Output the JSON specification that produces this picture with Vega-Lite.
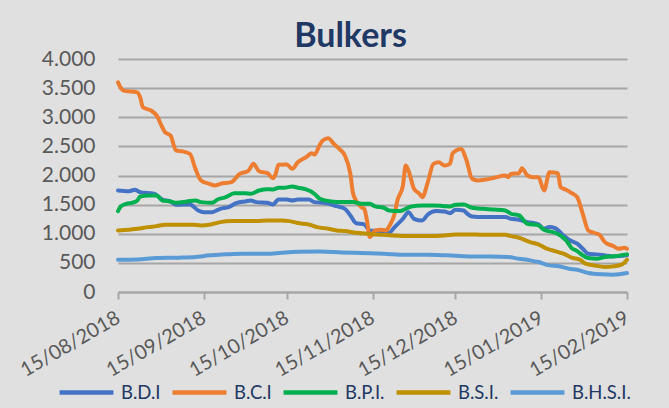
{
  "$schema": "https://vega.github.io/schema/vega-lite/v6.json",
  "autosize": "none",
  "width": 509,
  "height": 233,
  "padding": {"left": 118, "top": 59, "right": 42, "bottom": 116},
  "background": "#e0e0e0",
  "title": {"text": "Bulkers", "font": "Lato", "fontSize": 34, "fontWeight": "bold", "color": "#1f3864", "anchor": "middle", "dx": -22, "offset": -6},
  "config": {
    "view": {"stroke": null},
    "font": "Lato"
  },
  "data": {
    "format": {"parse": {"d": "date:'%Y-%m-%d'"}},
    "values": [
      {"s":"B.D.I","d":"2018-08-15","v":1743},{"s":"B.D.I","d":"2018-08-19","v":1731},{"s":"B.D.I","d":"2018-08-21","v":1754},{"s":"B.D.I","d":"2018-08-23","v":1714},{"s":"B.D.I","d":"2018-08-28","v":1686},{"s":"B.D.I","d":"2018-08-31","v":1589},{"s":"B.D.I","d":"2018-09-03","v":1554},{"s":"B.D.I","d":"2018-09-05","v":1497},{"s":"B.D.I","d":"2018-09-10","v":1503},{"s":"B.D.I","d":"2018-09-13","v":1400},{"s":"B.D.I","d":"2018-09-15","v":1371},{"s":"B.D.I","d":"2018-09-18","v":1371},{"s":"B.D.I","d":"2018-09-21","v":1428},{"s":"B.D.I","d":"2018-09-24","v":1457},{"s":"B.D.I","d":"2018-09-27","v":1531},{"s":"B.D.I","d":"2018-09-30","v":1554},{"s":"B.D.I","d":"2018-10-02","v":1571},{"s":"B.D.I","d":"2018-10-04","v":1543},{"s":"B.D.I","d":"2018-10-08","v":1531},{"s":"B.D.I","d":"2018-10-10","v":1503},{"s":"B.D.I","d":"2018-10-12","v":1589},{"s":"B.D.I","d":"2018-10-15","v":1589},{"s":"B.D.I","d":"2018-10-17","v":1571},{"s":"B.D.I","d":"2018-10-19","v":1589},{"s":"B.D.I","d":"2018-10-23","v":1589},{"s":"B.D.I","d":"2018-10-25","v":1543},{"s":"B.D.I","d":"2018-10-29","v":1526},{"s":"B.D.I","d":"2018-11-02","v":1474},{"s":"B.D.I","d":"2018-11-05","v":1428},{"s":"B.D.I","d":"2018-11-07","v":1314},{"s":"B.D.I","d":"2018-11-09","v":1183},{"s":"B.D.I","d":"2018-11-12","v":1160},{"s":"B.D.I","d":"2018-11-14","v":1057},{"s":"B.D.I","d":"2018-11-16","v":1050},{"s":"B.D.I","d":"2018-11-19","v":1040},{"s":"B.D.I","d":"2018-11-21","v":1017},{"s":"B.D.I","d":"2018-11-23","v":1114},{"s":"B.D.I","d":"2018-11-26","v":1257},{"s":"B.D.I","d":"2018-11-28","v":1371},{"s":"B.D.I","d":"2018-11-30","v":1257},{"s":"B.D.I","d":"2018-12-03","v":1228},{"s":"B.D.I","d":"2018-12-05","v":1331},{"s":"B.D.I","d":"2018-12-08","v":1389},{"s":"B.D.I","d":"2018-12-11","v":1383},{"s":"B.D.I","d":"2018-12-13","v":1354},{"s":"B.D.I","d":"2018-12-15","v":1411},{"s":"B.D.I","d":"2018-12-18","v":1400},{"s":"B.D.I","d":"2018-12-19","v":1354},{"s":"B.D.I","d":"2018-12-21","v":1297},{"s":"B.D.I","d":"2018-12-25","v":1286},{"s":"B.D.I","d":"2018-12-29","v":1286},{"s":"B.D.I","d":"2019-01-02","v":1286},{"s":"B.D.I","d":"2019-01-04","v":1257},{"s":"B.D.I","d":"2019-01-07","v":1240},{"s":"B.D.I","d":"2019-01-10","v":1200},{"s":"B.D.I","d":"2019-01-14","v":1160},{"s":"B.D.I","d":"2019-01-16","v":1086},{"s":"B.D.I","d":"2019-01-18","v":1114},{"s":"B.D.I","d":"2019-01-20","v":1097},{"s":"B.D.I","d":"2019-01-23","v":971},{"s":"B.D.I","d":"2019-01-25","v":897},{"s":"B.D.I","d":"2019-01-28","v":829},{"s":"B.D.I","d":"2019-01-30","v":743},{"s":"B.D.I","d":"2019-02-01","v":657},{"s":"B.D.I","d":"2019-02-04","v":646},{"s":"B.D.I","d":"2019-02-07","v":629},{"s":"B.D.I","d":"2019-02-10","v":611},{"s":"B.D.I","d":"2019-02-15","v":629},
      {"s":"B.C.I","d":"2018-08-15","v":3600},{"s":"B.C.I","d":"2018-08-16","v":3503},{"s":"B.C.I","d":"2018-08-17","v":3457},{"s":"B.C.I","d":"2018-08-22","v":3428},{"s":"B.C.I","d":"2018-08-23","v":3343},{"s":"B.C.I","d":"2018-08-24","v":3171},{"s":"B.C.I","d":"2018-08-27","v":3114},{"s":"B.C.I","d":"2018-08-29","v":3028},{"s":"B.C.I","d":"2018-08-31","v":2828},{"s":"B.C.I","d":"2018-09-01","v":2743},{"s":"B.C.I","d":"2018-09-03","v":2686},{"s":"B.C.I","d":"2018-09-05","v":2428},{"s":"B.C.I","d":"2018-09-07","v":2417},{"s":"B.C.I","d":"2018-09-10","v":2371},{"s":"B.C.I","d":"2018-09-12","v":2114},{"s":"B.C.I","d":"2018-09-14","v":1914},{"s":"B.C.I","d":"2018-09-17","v":1857},{"s":"B.C.I","d":"2018-09-19","v":1828},{"s":"B.C.I","d":"2018-09-21","v":1857},{"s":"B.C.I","d":"2018-09-25","v":1886},{"s":"B.C.I","d":"2018-09-28","v":2028},{"s":"B.C.I","d":"2018-10-01","v":2074},{"s":"B.C.I","d":"2018-10-03","v":2200},{"s":"B.C.I","d":"2018-10-05","v":2074},{"s":"B.C.I","d":"2018-10-08","v":2040},{"s":"B.C.I","d":"2018-10-10","v":1954},{"s":"B.C.I","d":"2018-10-11","v":2028},{"s":"B.C.I","d":"2018-10-12","v":2183},{"s":"B.C.I","d":"2018-10-15","v":2188},{"s":"B.C.I","d":"2018-10-17","v":2114},{"s":"B.C.I","d":"2018-10-19","v":2228},{"s":"B.C.I","d":"2018-10-22","v":2314},{"s":"B.C.I","d":"2018-10-24","v":2383},{"s":"B.C.I","d":"2018-10-25","v":2360},{"s":"B.C.I","d":"2018-10-27","v":2531},{"s":"B.C.I","d":"2018-10-28","v":2600},{"s":"B.C.I","d":"2018-10-30","v":2640},{"s":"B.C.I","d":"2018-11-01","v":2543},{"s":"B.C.I","d":"2018-11-03","v":2457},{"s":"B.C.I","d":"2018-11-05","v":2343},{"s":"B.C.I","d":"2018-11-07","v":2028},{"s":"B.C.I","d":"2018-11-08","v":1686},{"s":"B.C.I","d":"2018-11-11","v":1457},{"s":"B.C.I","d":"2018-11-12","v":1428},{"s":"B.C.I","d":"2018-11-13","v":1228},{"s":"B.C.I","d":"2018-11-14","v":943},{"s":"B.C.I","d":"2018-11-16","v":1057},{"s":"B.C.I","d":"2018-11-18","v":1069},{"s":"B.C.I","d":"2018-11-20","v":1057},{"s":"B.C.I","d":"2018-11-21","v":1126},{"s":"B.C.I","d":"2018-11-23","v":1343},{"s":"B.C.I","d":"2018-11-24","v":1571},{"s":"B.C.I","d":"2018-11-26","v":1828},{"s":"B.C.I","d":"2018-11-27","v":2171},{"s":"B.C.I","d":"2018-11-28","v":2086},{"s":"B.C.I","d":"2018-11-30","v":1771},{"s":"B.C.I","d":"2018-12-02","v":1686},{"s":"B.C.I","d":"2018-12-03","v":1628},{"s":"B.C.I","d":"2018-12-05","v":1886},{"s":"B.C.I","d":"2018-12-07","v":2200},{"s":"B.C.I","d":"2018-12-09","v":2228},{"s":"B.C.I","d":"2018-12-11","v":2171},{"s":"B.C.I","d":"2018-12-13","v":2200},{"s":"B.C.I","d":"2018-12-14","v":2383},{"s":"B.C.I","d":"2018-12-17","v":2457},{"s":"B.C.I","d":"2018-12-19","v":2257},{"s":"B.C.I","d":"2018-12-21","v":1943},{"s":"B.C.I","d":"2018-12-23","v":1914},{"s":"B.C.I","d":"2018-12-26","v":1931},{"s":"B.C.I","d":"2018-12-29","v":1960},{"s":"B.C.I","d":"2019-01-02","v":2000},{"s":"B.C.I","d":"2019-01-03","v":1971},{"s":"B.C.I","d":"2019-01-04","v":2028},{"s":"B.C.I","d":"2019-01-07","v":2040},{"s":"B.C.I","d":"2019-01-08","v":2126},{"s":"B.C.I","d":"2019-01-10","v":2000},{"s":"B.C.I","d":"2019-01-12","v":1971},{"s":"B.C.I","d":"2019-01-14","v":1971},{"s":"B.C.I","d":"2019-01-16","v":1743},{"s":"B.C.I","d":"2019-01-18","v":2057},{"s":"B.C.I","d":"2019-01-21","v":2040},{"s":"B.C.I","d":"2019-01-22","v":1800},{"s":"B.C.I","d":"2019-01-24","v":1754},{"s":"B.C.I","d":"2019-01-26","v":1697},{"s":"B.C.I","d":"2019-01-28","v":1628},{"s":"B.C.I","d":"2019-01-30","v":1343},{"s":"B.C.I","d":"2019-02-01","v":1057},{"s":"B.C.I","d":"2019-02-03","v":1017},{"s":"B.C.I","d":"2019-02-05","v":983},{"s":"B.C.I","d":"2019-02-07","v":857},{"s":"B.C.I","d":"2019-02-10","v":789},{"s":"B.C.I","d":"2019-02-12","v":743},{"s":"B.C.I","d":"2019-02-14","v":760},{"s":"B.C.I","d":"2019-02-15","v":743},
      {"s":"B.P.I.","d":"2018-08-15","v":1389},{"s":"B.P.I.","d":"2018-08-16","v":1469},{"s":"B.P.I.","d":"2018-08-18","v":1514},{"s":"B.P.I.","d":"2018-08-20","v":1531},{"s":"B.P.I.","d":"2018-08-22","v":1571},{"s":"B.P.I.","d":"2018-08-23","v":1640},{"s":"B.P.I.","d":"2018-08-26","v":1657},{"s":"B.P.I.","d":"2018-08-29","v":1657},{"s":"B.P.I.","d":"2018-08-31","v":1571},{"s":"B.P.I.","d":"2018-09-03","v":1554},{"s":"B.P.I.","d":"2018-09-05","v":1531},{"s":"B.P.I.","d":"2018-09-09","v":1554},{"s":"B.P.I.","d":"2018-09-12","v":1571},{"s":"B.P.I.","d":"2018-09-14","v":1543},{"s":"B.P.I.","d":"2018-09-18","v":1531},{"s":"B.P.I.","d":"2018-09-20","v":1589},{"s":"B.P.I.","d":"2018-09-23","v":1628},{"s":"B.P.I.","d":"2018-09-26","v":1697},{"s":"B.P.I.","d":"2018-09-30","v":1697},{"s":"B.P.I.","d":"2018-10-02","v":1686},{"s":"B.P.I.","d":"2018-10-05","v":1743},{"s":"B.P.I.","d":"2018-10-08","v":1766},{"s":"B.P.I.","d":"2018-10-10","v":1760},{"s":"B.P.I.","d":"2018-10-12","v":1789},{"s":"B.P.I.","d":"2018-10-14","v":1789},{"s":"B.P.I.","d":"2018-10-17","v":1811},{"s":"B.P.I.","d":"2018-10-19","v":1789},{"s":"B.P.I.","d":"2018-10-22","v":1760},{"s":"B.P.I.","d":"2018-10-25","v":1686},{"s":"B.P.I.","d":"2018-10-27","v":1600},{"s":"B.P.I.","d":"2018-10-31","v":1554},{"s":"B.P.I.","d":"2018-11-04","v":1543},{"s":"B.P.I.","d":"2018-11-08","v":1543},{"s":"B.P.I.","d":"2018-11-11","v":1514},{"s":"B.P.I.","d":"2018-11-14","v":1514},{"s":"B.P.I.","d":"2018-11-16","v":1469},{"s":"B.P.I.","d":"2018-11-19","v":1446},{"s":"B.P.I.","d":"2018-11-21","v":1400},{"s":"B.P.I.","d":"2018-11-25","v":1389},{"s":"B.P.I.","d":"2018-11-27","v":1428},{"s":"B.P.I.","d":"2018-11-29","v":1469},{"s":"B.P.I.","d":"2018-12-03","v":1486},{"s":"B.P.I.","d":"2018-12-07","v":1486},{"s":"B.P.I.","d":"2018-12-11","v":1474},{"s":"B.P.I.","d":"2018-12-13","v":1469},{"s":"B.P.I.","d":"2018-12-15","v":1497},{"s":"B.P.I.","d":"2018-12-18","v":1503},{"s":"B.P.I.","d":"2018-12-21","v":1446},{"s":"B.P.I.","d":"2018-12-25","v":1428},{"s":"B.P.I.","d":"2018-12-29","v":1417},{"s":"B.P.I.","d":"2019-01-02","v":1400},{"s":"B.P.I.","d":"2019-01-04","v":1343},{"s":"B.P.I.","d":"2019-01-07","v":1314},{"s":"B.P.I.","d":"2019-01-10","v":1171},{"s":"B.P.I.","d":"2019-01-14","v":1143},{"s":"B.P.I.","d":"2019-01-16","v":1069},{"s":"B.P.I.","d":"2019-01-18","v":1040},{"s":"B.P.I.","d":"2019-01-20","v":1017},{"s":"B.P.I.","d":"2019-01-24","v":886},{"s":"B.P.I.","d":"2019-01-26","v":754},{"s":"B.P.I.","d":"2019-01-28","v":703},{"s":"B.P.I.","d":"2019-01-30","v":629},{"s":"B.P.I.","d":"2019-02-01","v":583},{"s":"B.P.I.","d":"2019-02-04","v":571},{"s":"B.P.I.","d":"2019-02-07","v":600},{"s":"B.P.I.","d":"2019-02-11","v":617},{"s":"B.P.I.","d":"2019-02-15","v":646},
      {"s":"B.S.I.","d":"2018-08-15","v":1057},{"s":"B.S.I.","d":"2018-08-19","v":1069},{"s":"B.S.I.","d":"2018-08-22","v":1086},{"s":"B.S.I.","d":"2018-08-26","v":1114},{"s":"B.S.I.","d":"2018-08-29","v":1131},{"s":"B.S.I.","d":"2018-09-01","v":1154},{"s":"B.S.I.","d":"2018-09-06","v":1154},{"s":"B.S.I.","d":"2018-09-11","v":1154},{"s":"B.S.I.","d":"2018-09-14","v":1143},{"s":"B.S.I.","d":"2018-09-17","v":1154},{"s":"B.S.I.","d":"2018-09-21","v":1200},{"s":"B.S.I.","d":"2018-09-25","v":1217},{"s":"B.S.I.","d":"2018-09-29","v":1217},{"s":"B.S.I.","d":"2018-10-04","v":1217},{"s":"B.S.I.","d":"2018-10-08","v":1228},{"s":"B.S.I.","d":"2018-10-13","v":1228},{"s":"B.S.I.","d":"2018-10-16","v":1217},{"s":"B.S.I.","d":"2018-10-19","v":1183},{"s":"B.S.I.","d":"2018-10-23","v":1160},{"s":"B.S.I.","d":"2018-10-26","v":1114},{"s":"B.S.I.","d":"2018-10-30","v":1086},{"s":"B.S.I.","d":"2018-11-02","v":1057},{"s":"B.S.I.","d":"2018-11-05","v":1046},{"s":"B.S.I.","d":"2018-11-09","v":1017},{"s":"B.S.I.","d":"2018-11-13","v":1000},{"s":"B.S.I.","d":"2018-11-18","v":983},{"s":"B.S.I.","d":"2018-11-22","v":971},{"s":"B.S.I.","d":"2018-11-28","v":960},{"s":"B.S.I.","d":"2018-12-05","v":960},{"s":"B.S.I.","d":"2018-12-11","v":971},{"s":"B.S.I.","d":"2018-12-15","v":989},{"s":"B.S.I.","d":"2018-12-20","v":989},{"s":"B.S.I.","d":"2018-12-25","v":983},{"s":"B.S.I.","d":"2018-12-29","v":983},{"s":"B.S.I.","d":"2019-01-02","v":983},{"s":"B.S.I.","d":"2019-01-04","v":960},{"s":"B.S.I.","d":"2019-01-07","v":931},{"s":"B.S.I.","d":"2019-01-11","v":857},{"s":"B.S.I.","d":"2019-01-14","v":817},{"s":"B.S.I.","d":"2019-01-17","v":743},{"s":"B.S.I.","d":"2019-01-20","v":703},{"s":"B.S.I.","d":"2019-01-23","v":657},{"s":"B.S.I.","d":"2019-01-26","v":589},{"s":"B.S.I.","d":"2019-01-29","v":554},{"s":"B.S.I.","d":"2019-01-31","v":486},{"s":"B.S.I.","d":"2019-02-03","v":457},{"s":"B.S.I.","d":"2019-02-07","v":429},{"s":"B.S.I.","d":"2019-02-10","v":440},{"s":"B.S.I.","d":"2019-02-13","v":469},{"s":"B.S.I.","d":"2019-02-15","v":554},
      {"s":"B.H.S.I.","d":"2018-08-15","v":554},{"s":"B.H.S.I.","d":"2018-08-22","v":560},{"s":"B.H.S.I.","d":"2018-08-29","v":583},{"s":"B.H.S.I.","d":"2018-09-06","v":589},{"s":"B.H.S.I.","d":"2018-09-12","v":600},{"s":"B.H.S.I.","d":"2018-09-17","v":629},{"s":"B.H.S.I.","d":"2018-09-23","v":646},{"s":"B.H.S.I.","d":"2018-09-29","v":657},{"s":"B.H.S.I.","d":"2018-10-08","v":657},{"s":"B.H.S.I.","d":"2018-10-13","v":674},{"s":"B.H.S.I.","d":"2018-10-19","v":691},{"s":"B.H.S.I.","d":"2018-10-27","v":697},{"s":"B.H.S.I.","d":"2018-11-04","v":680},{"s":"B.H.S.I.","d":"2018-11-11","v":669},{"s":"B.H.S.I.","d":"2018-11-19","v":657},{"s":"B.H.S.I.","d":"2018-11-27","v":640},{"s":"B.H.S.I.","d":"2018-12-05","v":640},{"s":"B.H.S.I.","d":"2018-12-12","v":629},{"s":"B.H.S.I.","d":"2018-12-20","v":611},{"s":"B.H.S.I.","d":"2018-12-28","v":611},{"s":"B.H.S.I.","d":"2019-01-03","v":600},{"s":"B.H.S.I.","d":"2019-01-07","v":571},{"s":"B.H.S.I.","d":"2019-01-11","v":543},{"s":"B.H.S.I.","d":"2019-01-14","v":514},{"s":"B.H.S.I.","d":"2019-01-18","v":457},{"s":"B.H.S.I.","d":"2019-01-21","v":446},{"s":"B.H.S.I.","d":"2019-01-25","v":400},{"s":"B.H.S.I.","d":"2019-01-28","v":383},{"s":"B.H.S.I.","d":"2019-02-01","v":326},{"s":"B.H.S.I.","d":"2019-02-06","v":303},{"s":"B.H.S.I.","d":"2019-02-10","v":297},{"s":"B.H.S.I.","d":"2019-02-15","v":326}
    ]
  },
  "mark": {"type": "line", "strokeWidth": 4, "interpolate": "monotone", "strokeCap": "round", "strokeJoin": "round"},
  "encoding": {
    "x": {
      "field": "d", "type": "temporal",
      "scale": {"domain": [{"year": 2018, "month": 8, "date": 15}, {"year": 2019, "month": 2, "date": 15}]},
      "axis": {
        "title": null,
        "values": [{"year": 2018, "month": 8, "date": 15}, {"year": 2018, "month": 9, "date": 15}, {"year": 2018, "month": 10, "date": 15}, {"year": 2018, "month": 11, "date": 15}, {"year": 2018, "month": 12, "date": 15}, {"year": 2019, "month": 1, "date": 15}, {"year": 2019, "month": 2, "date": 15}],
        "format": "%d/%m/%Y",
        "labelAngle": -30, "labelAlign": "right", "labelBaseline": "middle",
        "labelFont": "Lato", "labelFontSize": 20, "labelColor": "#595959", "labelPadding": 17,
        "labelOverlap": false, "labelBound": false, "labelFlush": false,
        "grid": false,
        "domainColor": "#a6a6a6", "domainWidth": 2,
        "tickColor": "#a6a6a6", "tickWidth": 2, "tickSize": 7
      }
    },
    "y": {
      "field": "v", "type": "quantitative",
      "scale": {"domain": [0, 4000], "nice": false},
      "axis": {
        "title": null,
        "values": [0, 500, 1000, 1500, 2000, 2500, 3000, 3500, 4000],
        "labelExpr": "replace(format(datum.value, ','), ',', '.')",
        "labelFont": "Lato", "labelFontSize": 21, "labelColor": "#595959", "labelPadding": 23,
        "ticks": false, "domain": false,
        "gridColor": "#a6a6a6", "gridWidth": 2
      }
    },
    "color": {
      "field": "s", "type": "nominal", "sort": null,
      "scale": {"domain": ["B.D.I", "B.C.I", "B.P.I.", "B.S.I.", "B.H.S.I."], "range": ["#4472c4", "#ed7d31", "#00b050", "#bf9000", "#5b9bd5"]},
      "legend": {
        "title": null, "orient": "none", "legendX": -61, "legendY": 304, "direction": "horizontal",
        "symbolType": "stroke", "symbolSize": 2900, "symbolStrokeWidth": 4.5,
        "labelFont": "Lato", "labelFontSize": 18.5, "labelColor": "#1f3864", "labelOffset": 5,
        "columnPadding": 2, "padding": 0
      }
    }
  }
}
